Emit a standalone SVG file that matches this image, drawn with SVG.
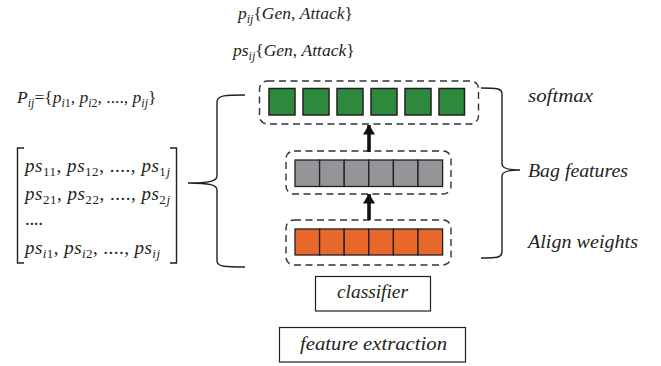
<svg xmlns="http://www.w3.org/2000/svg" width="661" height="366" viewBox="0 0 661 366">
<defs>
<style>
.dash{fill:none;stroke:#333;stroke-width:1.4;stroke-dasharray:7 4.5}
.g{fill:#2d8a3c;stroke:#231f20;stroke-width:1.5}
.gr{fill:#939598;stroke:#231f20;stroke-width:1.3}
.or{fill:#e8672a;stroke:#231f20;stroke-width:1.3}
.brace{fill:none;stroke:#231f20;stroke-width:1.4}
.box{fill:#fff;stroke:#231f20;stroke-width:1.2}
.arr{stroke:#111;stroke-width:3.6;fill:none}
</style>
<marker id="ah" markerUnits="userSpaceOnUse" markerWidth="10" markerHeight="12" viewBox="0 0 10 12" refX="9.5" refY="6" orient="auto">
<path d="M0,0 L10,6 L0,12 Z" fill="#111"/>
</marker>
</defs>

<g id="title-p">
<text x="238" y="19" font-family="Liberation Serif" font-size="17.5" font-style="italic" fill="#231f20">p<tspan font-size="12" dy="4">ij</tspan><tspan dy="-4" font-style="normal">{</tspan>Gen<tspan font-style="normal">, </tspan>Attack<tspan font-style="normal">}</tspan></text>
</g>
<g id="title-ps">
<text x="233" y="56" font-family="Liberation Serif" font-size="17.5" font-style="italic" fill="#231f20">ps<tspan font-size="12" dy="4">ij</tspan><tspan dy="-4" font-style="normal">{</tspan>Gen<tspan font-style="normal">, </tspan>Attack<tspan font-style="normal">}</tspan></text>
</g>

<g id="Pij">
<text x="17" y="103" font-family="Liberation Serif" font-size="17.5" font-style="italic" fill="#231f20">P<tspan font-size="12" dy="4">ij</tspan><tspan dy="-4" font-style="normal">={</tspan>p<tspan font-size="12" dy="4">i</tspan><tspan font-size="12" font-style="normal">1</tspan><tspan dy="-4" font-style="normal">, </tspan>p<tspan font-size="12" dy="4">i</tspan><tspan font-size="12" font-style="normal">2</tspan><tspan dy="-4" font-style="normal">, ...., </tspan>p<tspan font-size="12" dy="4">ij</tspan><tspan dy="-4" font-style="normal">}</tspan></text>
</g>

<g id="matrix">
<path class="brace" d="M24,148 L17.5,148 L17.5,263 L24,263 M170,148 L176.5,148 L176.5,263 L170,263"/>
<text x="25" y="172" font-family="Liberation Serif" font-size="19" font-style="italic" fill="#231f20" textLength="145">ps<tspan font-size="13" dy="4" font-style="normal">11</tspan><tspan dy="-4" font-style="normal">, </tspan>ps<tspan font-size="13" dy="4" font-style="normal">12</tspan><tspan dy="-4" font-style="normal">, ...., </tspan>ps<tspan font-size="13" dy="4" font-style="normal">1</tspan><tspan font-size="13">j</tspan></text>
<text x="25" y="200" font-family="Liberation Serif" font-size="19" font-style="italic" fill="#231f20" textLength="145">ps<tspan font-size="13" dy="4" font-style="normal">21</tspan><tspan dy="-4" font-style="normal">, </tspan>ps<tspan font-size="13" dy="4" font-style="normal">22</tspan><tspan dy="-4" font-style="normal">, ...., </tspan>ps<tspan font-size="13" dy="4" font-style="normal">2</tspan><tspan font-size="13">j</tspan></text>
<text x="25" y="225" font-family="Liberation Serif" font-size="19" fill="#231f20" textLength="18">....</text>
<text x="25" y="254" font-family="Liberation Serif" font-size="19" font-style="italic" fill="#231f20" textLength="135">ps<tspan font-size="13" dy="4">i</tspan><tspan font-size="13" font-style="normal">1</tspan><tspan dy="-4" font-style="normal">, </tspan>ps<tspan font-size="13" dy="4">i</tspan><tspan font-size="13" font-style="normal">2</tspan><tspan dy="-4" font-style="normal">, ...., </tspan>ps<tspan font-size="13" dy="4">ij</tspan></text>
</g>

<g id="left-brace">
<path class="brace" d="M245,95 C226,95 217,95 217,102 L217,176 C217,181 210,183 188,183 C210,183 217,185 217,190 L217,261 C217,267 226,267 245,267"/>
</g>

<g id="softmax-layer">
<rect class="dash" x="259.5" y="81" width="219" height="43" rx="8"/>
<rect class="g" x="269" y="88.5" width="26" height="26.5"/>
<rect class="g" x="303" y="88.5" width="26" height="26.5"/>
<rect class="g" x="337" y="88.5" width="26" height="26.5"/>
<rect class="g" x="371" y="88.5" width="26" height="26.5"/>
<rect class="g" x="405" y="88.5" width="26" height="26.5"/>
<rect class="g" x="439" y="88.5" width="25.5" height="26.5"/>
</g>

<g id="bag-layer">
<rect class="dash" x="286" y="151" width="165" height="43" rx="8"/>
<rect class="gr" x="295" y="160" width="24.6" height="26.5"/>
<rect class="gr" x="319.6" y="160" width="24.6" height="26.5"/>
<rect class="gr" x="344.2" y="160" width="24.6" height="26.5"/>
<rect class="gr" x="368.8" y="160" width="24.6" height="26.5"/>
<rect class="gr" x="393.4" y="160" width="24.6" height="26.5"/>
<rect class="gr" x="418" y="160" width="24.6" height="26.5"/>
</g>

<g id="align-layer">
<rect class="dash" x="286" y="220" width="165" height="45" rx="8"/>
<rect class="or" x="295" y="229" width="24.6" height="26"/>
<rect class="or" x="319.6" y="229" width="24.6" height="26"/>
<rect class="or" x="344.2" y="229" width="24.6" height="26"/>
<rect class="or" x="368.8" y="229" width="24.6" height="26"/>
<rect class="or" x="393.4" y="229" width="24.6" height="26"/>
<rect class="or" x="418" y="229" width="24.6" height="26"/>
</g>

<g id="connectors">
<line class="arr" x1="369" y1="152" x2="369" y2="125" marker-end="url(#ah)"/>
<line class="arr" x1="369" y1="220" x2="369" y2="194" marker-end="url(#ah)"/>
</g>

<g id="right-brace">
<path class="brace" d="M481,88 C496,88 502,88 502,94 L502,164 C502,168 508,170 520,170 C508,170 502,172 502,176 L502,252 C502,258 496,258 481,258"/>
</g>

<g id="labels">
<text x="528" y="102" font-family="Liberation Serif" font-size="18.5" font-style="italic" fill="#231f20" textLength="65" lengthAdjust="spacingAndGlyphs">softmax</text>
<text x="528" y="177" font-family="Liberation Serif" font-size="18.5" font-style="italic" fill="#231f20" textLength="100" lengthAdjust="spacingAndGlyphs">Bag features</text>
<text x="528" y="248" font-family="Liberation Serif" font-size="18.5" font-style="italic" fill="#231f20" textLength="110" lengthAdjust="spacingAndGlyphs">Align weights</text>
</g>

<g id="classifier">
<rect class="box" x="315.5" y="276.5" width="115" height="34.5"/>
<text x="337" y="298" font-family="Liberation Serif" font-size="18.5" font-style="italic" fill="#231f20" textLength="71" lengthAdjust="spacingAndGlyphs">classifier</text>
</g>

<g id="feature-extraction">
<rect class="box" x="279.5" y="327.5" width="186" height="34.5"/>
<text x="300" y="350" font-family="Liberation Serif" font-size="18.5" font-style="italic" fill="#231f20" textLength="147" lengthAdjust="spacingAndGlyphs">feature extraction</text>
</g>
</svg>
